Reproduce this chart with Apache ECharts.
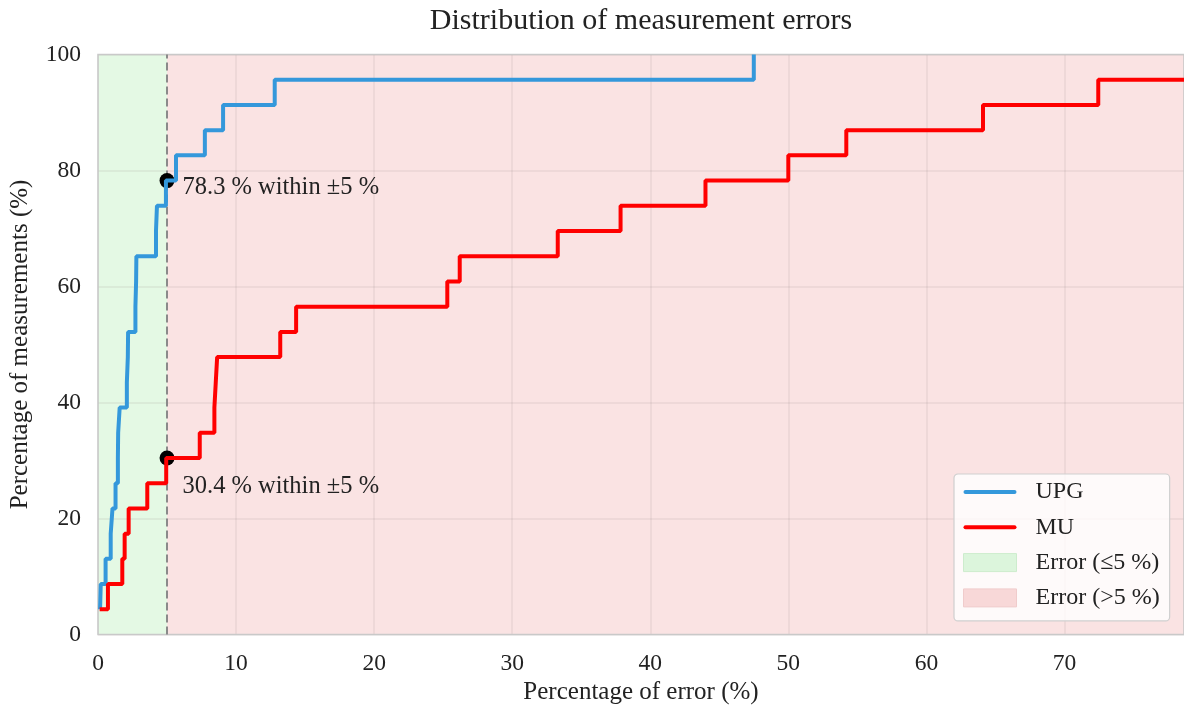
<!DOCTYPE html>
<html>
<head>
<meta charset="utf-8">
<title>Distribution of measurement errors</title>
<script src="https://cdn.jsdelivr.net/npm/echarts@6/dist/echarts.min.js"></script>
<style>
    html, body { margin: 0; padding: 0; background: #fff; }
    #chart { width: 1184px; height: 713px; }
</style>
</head>
<body>
<div id="chart"></div>
<script>
    // cumulative share of measurements (%) reached at each sorted error
    var cumPercent = [4.35, 8.70, 13.04, 17.39, 21.74, 26.09, 30.43, 34.78, 39.13, 43.48, 47.83, 52.17,
        56.52, 60.87, 65.22, 69.57, 73.91, 78.26, 82.61, 86.96, 91.30, 95.65, 100];
    // sorted absolute errors (%)
    var upgErrors = [0.15, 0.2, 0.55, 0.92, 1.05, 1.27, 1.44, 1.46, 1.57, 2.09, 2.16, 2.18,
        2.71, 2.76, 2.78, 4.2, 4.27, 4.92, 5.65, 7.74, 9.06, 12.8, 47.5];
    var muErrors = [0.12, 0.72, 1.76, 1.93, 2.22, 3.57, 4.94, 7.37, 8.43, 8.53, 8.63, 13.2,
        14.35, 25.3, 26.2, 33.3, 37.85, 44.0, 50.0, 54.2, 64.1, 72.45, 84];
    var seriesNames = ['UPG', 'MU'];
    var bandNames = ['Error (≤5 %)', 'Error (>5 %)'];
    var threshold = 5;
    var withinLabels = [78.3, 30.4];
    var withinIndex = [17, 6];   // index in cumPercent of the point at the threshold
    var xTicks = [0, 10, 20, 30, 40, 50, 60, 70];
    var yTicks = [0, 20, 40, 60, 80, 100];

    var serif = '"Liberation Serif", "DejaVu Serif", serif';
    var xMax = 78.66;

    function toPoints(errs) {
        var pts = [];
        for (var i = 0; i < errs.length; i++) {
            pts.push([errs[i], cumPercent[i]]);
        }
        return pts;
    }

    var lineIcon = 'path://M2,0 L51,0 A2,2 0 0 1 51,4 L2,4 A2,2 0 0 1 2,0 Z';

    var chart = echarts.init(document.getElementById('chart'));
    var option = {
        animation: false,
        backgroundColor: '#fff',
        title: {
            text: 'Distribution of measurement errors',
            left: 641,
            top: 6,
            padding: 0,
            textAlign: 'center',
            textStyle: { fontFamily: serif, fontSize: 30, fontWeight: 'normal', color: '#222', lineHeight: 30 }
        },
        grid: {
            left: 97.3, top: 54.5, bottom: 78.5, right: -2,
            show: true, z: 4,
            borderColor: '#c9c9c9', borderWidth: 1.5,
            backgroundColor: 'transparent'
        },
        legend: {
            orient: 'vertical',
            left: 954, top: 474,
            padding: [5, 10, 10, 9],
            itemGap: 9.3,
            itemWidth: 53, itemHeight: 18,
            backgroundColor: 'rgba(255,255,255,0.8)',
            borderColor: '#cfcfcf', borderWidth: 1.2, borderRadius: 4,
            selectedMode: false,
            textStyle: { fontFamily: serif, fontSize: 24, color: '#222', lineHeight: 26, padding: [0, 0, 0, 14] },
            data: [
                { name: seriesNames[0], icon: lineIcon, itemStyle: { color: '#3498db' } },
                { name: seriesNames[1], icon: lineIcon, itemStyle: { color: '#ff0000' } },
                { name: bandNames[0], icon: 'rect', itemStyle: { color: '#dcf5dc', borderColor: '#cdeccd', borderWidth: 1 } },
                { name: bandNames[1], icon: 'rect', itemStyle: { color: '#f8d8d8', borderColor: '#f0cccc', borderWidth: 1 } }
            ]
        },
        xAxis: {
            type: 'value', min: 0, max: xMax, interval: 10, z: 3,
            name: 'Percentage of error (%)',
            nameLocation: 'middle', nameGap: 45,
            nameTextStyle: { fontFamily: serif, fontSize: 25, color: '#222' },
            axisLine: { show: false },
            axisTick: { show: false },
            axisLabel: {
                margin: 17, fontFamily: serif, fontSize: 23.5, color: '#222',
                showMaxLabel: false,
                formatter: function (v) { return xTicks.indexOf(v) >= 0 ? v : ''; }
            },
            splitLine: { show: true, lineStyle: { color: 'rgba(150,130,130,0.14)', width: 1.5 } }
        },
        yAxis: {
            type: 'value', min: 0, max: 100, interval: 20, z: 3,
            name: 'Percentage of measurements (%)',
            nameLocation: 'middle', nameGap: 65,
            nameTextStyle: { fontFamily: serif, fontSize: 25, color: '#222' },
            axisLine: { show: false },
            axisTick: { show: false },
            axisLabel: {
                margin: 17, fontFamily: serif, fontSize: 23.5, color: '#222',
                formatter: function (v) { return yTicks.indexOf(v) >= 0 ? v : ''; }
            },
            splitLine: { show: true, lineStyle: { color: 'rgba(150,130,130,0.14)', width: 1.5 } }
        },
        series: [
            {
                name: bandNames[0], type: 'line', z: 1, data: [],
                itemStyle: { color: '#dcf5dc' },
                markArea: {
                    silent: true,
                    itemStyle: { color: '#e4f9e4' },
                    data: [[{ xAxis: 0 }, { xAxis: threshold }]]
                }
            },
            {
                name: bandNames[1], type: 'line', z: 1, data: [],
                itemStyle: { color: '#f8d8d8' },
                markArea: {
                    silent: true,
                    itemStyle: { color: '#fae3e3' },
                    data: [[{ xAxis: threshold }, { xAxis: xMax }]]
                }
            },
            {
                name: seriesNames[0], type: 'line', step: 'end', z: 5,
                data: toPoints(upgErrors),
                showSymbol: false, symbol: 'none',
                lineStyle: { color: '#3498db', width: 4 },
                itemStyle: { color: '#3498db' },
                markLine: {
                    silent: true, symbol: 'none', label: { show: false },
                    lineStyle: { color: '#8a8a8a', width: 2, type: [8, 4] },
                    data: [{ xAxis: threshold }]
                },
                markPoint: {
                    symbol: 'circle', symbolSize: 15,
                    itemStyle: { color: '#000' },
                    label: {
                        show: true, position: 'right', distance: 8, offset: [0, 7],
                        fontFamily: serif, fontSize: 24.5, color: '#222',
                        formatter: withinLabels[0] + ' % within ±5 %'
                    },
                    data: [{ coord: [threshold, cumPercent[withinIndex[0]]] }]
                }
            },
            {
                name: seriesNames[1], type: 'line', step: 'end', z: 5,
                data: toPoints(muErrors),
                showSymbol: false, symbol: 'none',
                lineStyle: { color: '#ff0000', width: 4 },
                itemStyle: { color: '#ff0000' },
                markPoint: {
                    symbol: 'circle', symbolSize: 15,
                    itemStyle: { color: '#000' },
                    label: {
                        show: true, position: 'right', distance: 8, offset: [0, 29],
                        fontFamily: serif, fontSize: 24.5, color: '#222',
                        formatter: withinLabels[1] + ' % within ±5 %'
                    },
                    data: [{ coord: [threshold, cumPercent[withinIndex[1]]] }]
                }
            }
        ]
    };
    chart.setOption(option);
</script>
</body>
</html>
